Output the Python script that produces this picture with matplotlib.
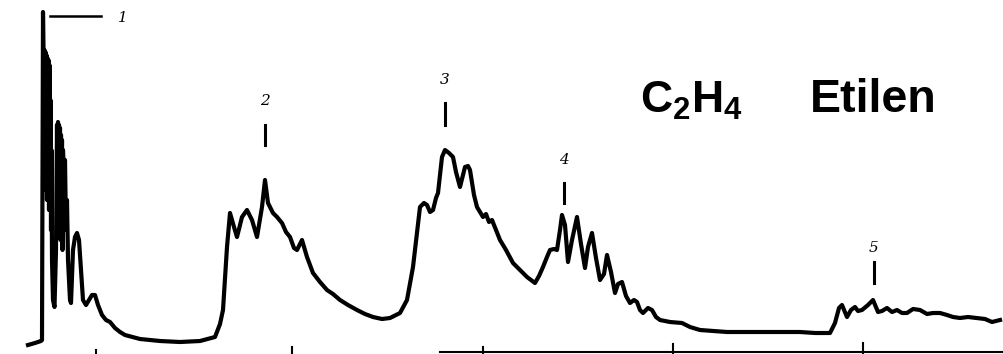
import matplotlib
matplotlib.use("Agg")
import matplotlib.pyplot as plt

plt.rcParams['mathtext.fontset'] = 'custom'
plt.rcParams['mathtext.rm'] = 'Liberation Sans:bold'

# spectrum trace as (position, deflection) pairs; deflection grows downward
trace = [
    (28, 345), (35, 343), (41, 341), (42, 340), (43, 12), (43.5, 48),
    (44, 160), (44.5, 50), (45, 190), (45.5, 52), (46, 170), (46.5, 55),
    (47, 200), (47.5, 58), (48, 180), (48.5, 60), (49, 210), (49.5, 65),
    (50, 190), (50.5, 100), (51, 230), (51.5, 150), (52, 260), (53, 300),
    (54.5, 307), (56, 250), (57, 125), (57.5, 200), (58, 122), (58.5, 230),
    (59, 125), (59.5, 210), (60, 128), (60.5, 240), (61, 135), (61.5, 220),
    (62, 140), (62.5, 250), (63, 150), (64, 180), (65, 160), (66, 230),
    (67, 200), (68, 260), (70, 300), (71, 303), (73, 250), (75, 237),
    (77, 233), (79, 240), (81, 270), (83, 300), (86, 305), (89, 300),
    (92, 295), (95, 295), (98, 305), (102, 315), (106, 320), (110, 322),
    (115, 328), (120, 332), (125, 335), (140, 339), (160, 341), (180, 342),
    (200, 341), (215, 337), (220, 324), (223, 310), (227, 247), (230, 213),
    (234, 227), (237, 237), (242, 217), (247, 210), (252, 220), (257, 237),
    (262, 207), (265, 180), (268, 203), (273, 213), (277, 217), (282, 223),
    (286, 232), (290, 237), (294, 248), (297, 250), (302, 240), (307, 257),
    (313, 273), (320, 282), (327, 290), (333, 294), (340, 300), (348, 305),
    (357, 310), (365, 314), (373, 317), (382, 319), (390, 318), (400, 313),
    (407, 300), (413, 267), (420, 207), (424, 203), (427, 205), (430, 212),
    (433, 210), (436, 198), (438, 193), (442, 157), (445, 150), (449, 153),
    (453, 157), (456, 172), (460, 187), (463, 175), (465, 167), (468, 166),
    (470, 170), (474, 195), (477, 207), (480, 212), (483, 217), (486, 214),
    (489, 222), (492, 220), (496, 230), (500, 240), (506, 250), (513, 263),
    (520, 270), (527, 277), (531, 280), (535, 283), (539, 276), (543, 267),
    (547, 257), (550, 250), (554, 249), (557, 250), (560, 230), (562, 215),
    (565, 225), (568, 262), (572, 240), (577, 217), (581, 244), (585, 268),
    (588, 247), (592, 233), (596, 258), (600, 280), (604, 274), (607, 255),
    (611, 272), (615, 293), (618, 284), (622, 282), (626, 296), (630, 303),
    (634, 300), (637, 302), (640, 310), (643, 313), (648, 308), (652, 310),
    (656, 317), (660, 320), (670, 322), (682, 323), (690, 327), (700, 330),
    (727, 332), (760, 332), (800, 332), (815, 333), (830, 333), (835, 323),
    (839, 308), (842, 305), (847, 317), (851, 310), (855, 307), (858, 311),
    (862, 310), (868, 305), (873, 300), (878, 312), (882, 311), (887, 308),
    (892, 312), (897, 310), (902, 313), (907, 313), (913, 309), (920, 310),
    (927, 314), (933, 313), (940, 313), (947, 315), (953, 317), (960, 318),
    (968, 317), (977, 318), (985, 319), (992, 322), (1000, 320),
]
pos = [p for p, _ in trace]
defl = [d for _, d in trace]

# numbered band markers
band_labels = ['1', '2', '3', '4', '5']
band_x = [123, 265, 445, 564, 874]
band_text_y = [18, 101, 80, 160, 248]
band_tick = [None, (125, 145), (103, 125), (183, 203), (262, 283)]

# scale marks along the bottom edge
scale_ticks = [96, 292, 483, 673, 863]
scale_tick_top = [350, 347, 347, 344, 343]

fig = plt.figure(figsize=(10.04, 3.54), dpi=100)
ax = fig.add_axes([0, 0, 1, 1])
ax.set_xlim(0, 1004)
ax.set_ylim(354, 0)
ax.axis('off')

ax.plot(pos, defl, color='black', lw=3.0, solid_joinstyle='round')

ax.plot([50, 101], [16, 16], color='black', lw=1.8)
for lab, x, ty, tk in zip(band_labels, band_x, band_text_y, band_tick):
    ax.text(x, ty, lab, ha='center', va='center', fontsize=11,
            family='DejaVu Serif', style='italic', color='black')
    if tk is not None:
        ax.plot([x, x], tk, color='black', lw=2.2)

ax.plot([440, 1004], [352, 352], color='black', lw=1.5)
for x, top in zip(scale_ticks, scale_tick_top):
    ax.plot([x, x], [354, top], color='black', lw=1.5)

ax.text(640, 100, r'$\mathrm{C_2H_4}$', fontsize=32, ha='left', va='center',
        color='black')
ax.text(810, 100, 'Etilen', fontsize=33.5, family='Liberation Sans',
        weight='bold', ha='left', va='center', color='black')

fig.savefig('out.png', dpi=100)
